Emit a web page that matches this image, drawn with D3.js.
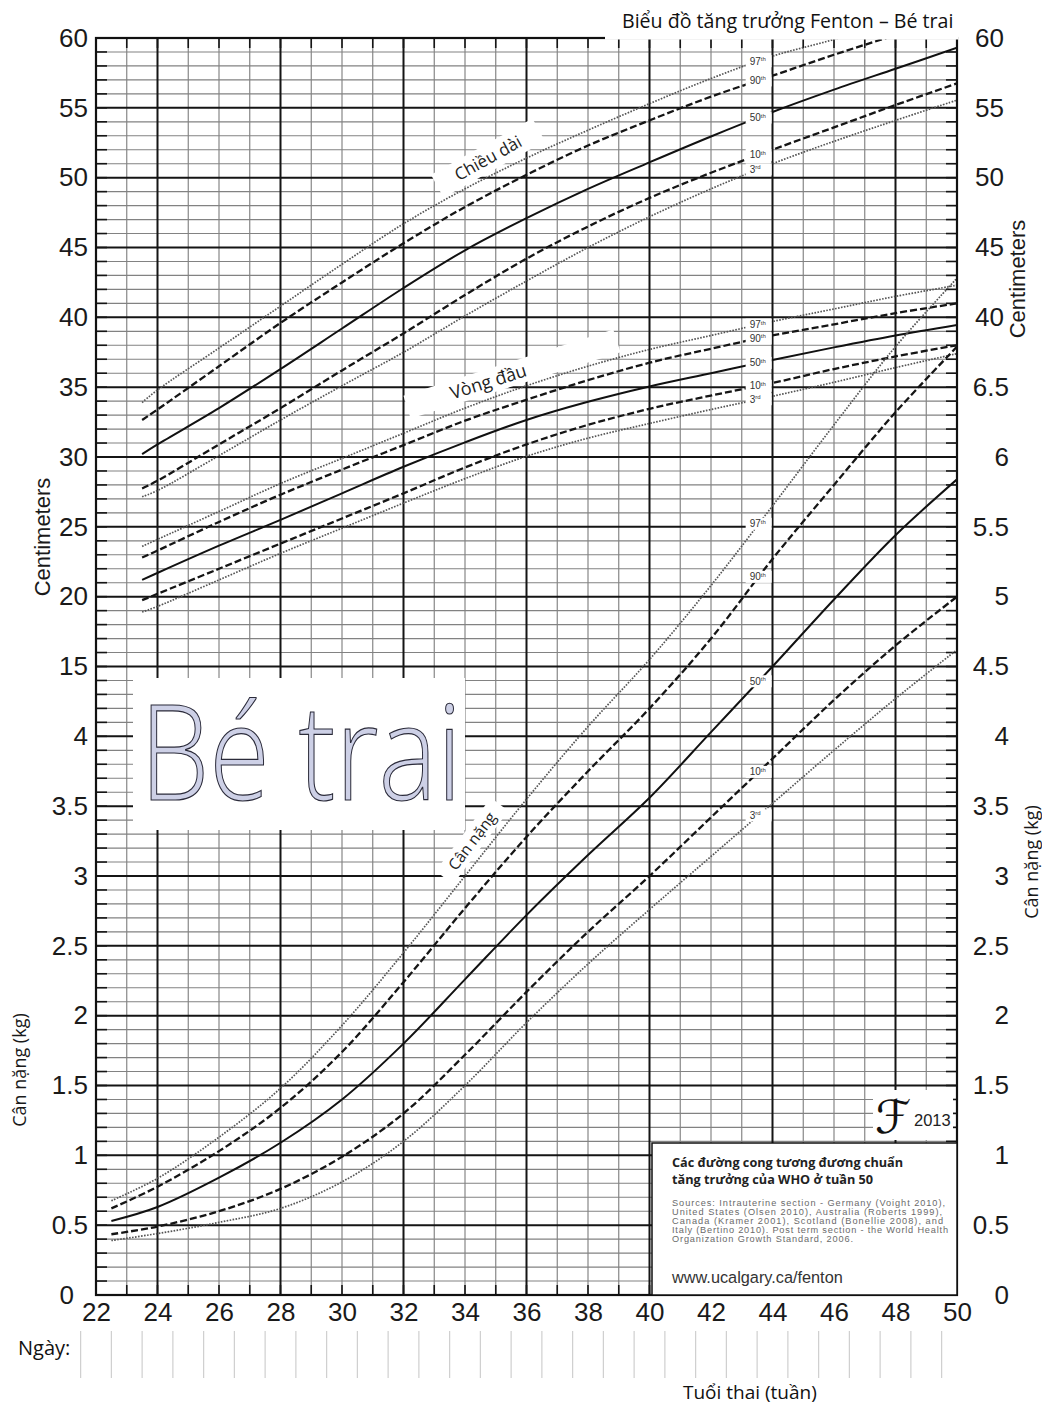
<!DOCTYPE html>
<html>
<head>
<meta charset="utf-8">
<script src="https://cdn.jsdelivr.net/npm/d3@7"></script>
<style>
  body { margin: 0; background: #fff; }
  svg { display: block; }
  .vn { font-family: "Open Sans", "Noto Sans", sans-serif; }
  .num { font-family: "Liberation Sans", Arial, sans-serif; }
</style>
</head>
<body>
<svg id="chart"></svg>
<script>
// ---- data ----
const weekTicks = [22, 24, 26, 28, 30, 32, 34, 36, 38, 40, 42, 44, 46, 48, 50];
const leftCmTicks = [60, 55, 50, 45, 40, 35, 30, 25, 20, 15];
const leftKgTicks = [4, 3.5, 3, 2.5, 2, 1.5, 1, 0.5, 0];
const rightCmTicks = [60, 55, 50, 45, 40];
const rightKgTicks = [6.5, 6, 5.5, 5, 4.5, 4, 3.5, 3, 2.5, 2, 1.5, 1, 0.5, 0];
const percentiles = [97, 90, 50, 10, 3];

// length (cm)
const lengthWeeks = [23.5, 24, 26, 28, 30, 32, 34, 36, 38, 40, 42, 44, 46, 48, 50];
const length97 = [33.9, 34.8, 37.8, 40.8, 43.8, 46.7, 49.2, 51.4, 53.4, 55.3, 57.1, 58.7, 59.9, 61.3, 62.6];
const length90 = [32.65, 33.4, 36.5, 39.6, 42.5, 45.3, 47.9, 50.2, 52.3, 54.1, 55.8, 57.3, 58.8, 60.2, 61.5];
const length50 = [30.2, 30.9, 33.5, 36.3, 39.2, 42.1, 44.8, 47.1, 49.2, 51.1, 52.95, 54.7, 56.3, 57.8, 59.3];
const length10 = [27.75, 28.3, 30.9, 33.5, 36.2, 38.85, 41.6, 44.2, 46.5, 48.55, 50.35, 52.0, 53.6, 55.2, 56.75];
const length3 = [27.15, 27.6, 30.1, 32.65, 35.1, 37.5, 40.1, 42.6, 45.0, 47.2, 49.2, 51.0, 52.6, 54.1, 55.55];

// head circumference (cm)
const headWeeks = [23.5, 24, 26, 28, 30, 32, 34, 36, 38, 40, 42, 44, 46, 48, 50];
const head97 = [23.6, 24.1, 26.1, 28.1, 29.9, 31.7, 33.5, 35.1, 36.5, 37.7, 38.7, 39.7, 40.6, 41.5, 42.3];
const head90 = [22.8, 23.3, 25.35, 27.3, 29.1, 30.85, 32.6, 34.1, 35.5, 36.75, 37.75, 38.7, 39.5, 40.3, 41.0];
const head50 = [21.2, 21.7, 23.65, 25.5, 27.4, 29.3, 31.05, 32.65, 33.95, 35.05, 36.0, 36.95, 37.85, 38.7, 39.45];
const head10 = [19.75, 20.2, 22.0, 23.8, 25.6, 27.4, 29.25, 30.9, 32.3, 33.45, 34.4, 35.3, 36.3, 37.2, 38.0];
const head3 = [18.9, 19.3, 21.2, 23.1, 24.9, 26.7, 28.45, 30.05, 31.35, 32.4, 33.4, 34.35, 35.35, 36.4, 37.4];

// weight (kg)
const weightWeeks = [22.5, 24, 26, 28, 30, 32, 34, 36, 38, 40, 42, 44, 46, 48, 50];
const weight97 = [0.675, 0.835, 1.13, 1.48, 1.93, 2.45, 3.0, 3.55, 4.07, 4.55, 5.08, 5.65, 6.23, 6.79, 7.28];
const weight90 = [0.62, 0.775, 1.03, 1.34, 1.74, 2.24, 2.77, 3.28, 3.75, 4.2, 4.7, 5.27, 5.8, 6.32, 6.79];
const weight50 = [0.53, 0.63, 0.84, 1.09, 1.4, 1.8, 2.26, 2.72, 3.15, 3.56, 4.03, 4.5, 4.98, 5.44, 5.84];
const weight10 = [0.435, 0.49, 0.6, 0.76, 0.99, 1.3, 1.72, 2.17, 2.6, 3.0, 3.42, 3.84, 4.26, 4.65, 5.0];
const weight3 = [0.39, 0.44, 0.52, 0.62, 0.81, 1.1, 1.5, 1.95, 2.37, 2.76, 3.14, 3.52, 3.9, 4.27, 4.62];

const sourceLines = [
  "Sources: Intrauterine section - Germany (Voight 2010),",
  "United States (Olsen 2010), Australia (Roberts 1999),",
  "Canada (Kramer 2001), Scotland (Bonellie 2008), and",
  "Italy (Bertino 2010). Post term section - the World Health",
  "Organization Growth Standard, 2006."
];

class FentonChart {
  constructor(_config) {
    this.config = {
      parentElement: _config.parentElement,
      containerWidth: 1042,
      containerHeight: 1404,
      margin: { top: 38, right: 85, bottom: 109, left: 96 },
      labelWeek: 43.55
    };
    this.initVis();
  }

  initVis() {
    let vis = this;
    vis.width = vis.config.containerWidth - vis.config.margin.left - vis.config.margin.right;
    vis.height = vis.config.containerHeight - vis.config.margin.top - vis.config.margin.bottom;

    vis.svg = d3.select(vis.config.parentElement)
      .attr('width', vis.config.containerWidth)
      .attr('height', vis.config.containerHeight);

    vis.chart = vis.svg.append('g')
      .attr('transform', `translate(${vis.config.margin.left},${vis.config.margin.top})`);

    vis.xScale = d3.scaleLinear().domain([22, 50]).range([0, vis.width]);
    // one shared grid: 18 big squares, 5 cm or 0.5 kg each
    vis.yKg = d3.scaleLinear().domain([0, 9]).range([vis.height, 0]);
    vis.yCm = d3.scaleLinear().domain([-30, 60]).range([vis.height, 0]);

    vis.series = [
      { y: vis.yCm, weeks: lengthWeeks, values: [length97, length90, length50, length10, length3] },
      { y: vis.yCm, weeks: headWeeks, values: [head97, head90, head50, head10, head3] },
      { y: vis.yKg, weeks: weightWeeks, values: [weight97, weight90, weight50, weight10, weight3] }
    ];

    vis.renderVis();
  }

  renderVis() {
    let vis = this;
    const W = vis.width, H = vis.height;

    // grid
    const grid = vis.chart.append('g').attr('class', 'grid');
    const rows = d3.range(0, 91);
    grid.selectAll('.hminor')
      .data(rows.filter(k => k % 5 !== 0))
      .join('line')
      .attr('x1', 0).attr('x2', W)
      .attr('y1', k => vis.yKg(k / 10)).attr('y2', k => vis.yKg(k / 10))
      .attr('stroke', '#828282').attr('stroke-width', 1.15);
    const allWeeks = d3.range(22, 51);
    grid.selectAll('.vminor')
      .data(allWeeks.filter(w => (w - 24) % 4 !== 0))
      .join('line')
      .attr('y1', 0).attr('y2', H)
      .attr('x1', w => vis.xScale(w)).attr('x2', w => vis.xScale(w))
      .attr('stroke', '#828282').attr('stroke-width', 1.15);
    grid.selectAll('.hmajor')
      .data(rows.filter(k => k % 5 === 0))
      .join('line')
      .attr('x1', 0).attr('x2', W)
      .attr('y1', k => vis.yKg(k / 10)).attr('y2', k => vis.yKg(k / 10))
      .attr('stroke', '#151515').attr('stroke-width', 2);
    grid.selectAll('.vmajor')
      .data(allWeeks.filter(w => (w - 24) % 4 === 0))
      .join('line')
      .attr('y1', 0).attr('y2', H)
      .attr('x1', w => vis.xScale(w)).attr('x2', w => vis.xScale(w))
      .attr('stroke', '#151515').attr('stroke-width', 2);

    // short ticks along the frame
    const ticks = vis.chart.append('g').attr('stroke', '#151515').attr('stroke-width', 1.6);
    rows.forEach(k => {
      const y = vis.yKg(k / 10);
      ticks.append('line').attr('x1', 0).attr('x2', 11).attr('y1', y).attr('y2', y);
      ticks.append('line').attr('x1', W - 11).attr('x2', W).attr('y1', y).attr('y2', y);
    });
    allWeeks.forEach(w => {
      const x = vis.xScale(w);
      ticks.append('line').attr('x1', x).attr('x2', x).attr('y1', 0).attr('y2', 10);
      ticks.append('line').attr('x1', x).attr('x2', x).attr('y1', H - 10).attr('y2', H);
    });

    // curves
    vis.svg.append('defs').append('clipPath').attr('id', 'plot-clip')
      .append('rect').attr('width', W).attr('height', H);
    const curves = vis.chart.append('g').attr('clip-path', 'url(#plot-clip)');
    const styleFor = p => {
      if (p === 50) return { stroke: '#111', width: 2, dash: null };
      if (p === 10 || p === 90) return { stroke: '#151515', width: 2.3, dash: '7,3' };
      return { stroke: '#555', width: 1.7, dash: '1.6,1.4' };
    };
    vis.series.forEach(s => {
      const line = d3.line()
        .x(d => vis.xScale(d[0]))
        .y(d => s.y(d[1]))
        .curve(d3.curveCatmullRom.alpha(0.5));
      s.values.forEach((vals, i) => {
        const st = styleFor(percentiles[i]);
        curves.append('path')
          .datum(s.weeks.map((w, j) => [w, vals[j]]))
          .attr('fill', 'none')
          .attr('stroke', st.stroke)
          .attr('stroke-width', st.width)
          .attr('stroke-dasharray', st.dash)
          .attr('d', line);
      });
    });

    // frame
    vis.chart.append('rect')
      .attr('width', W).attr('height', H)
      .attr('fill', 'none').attr('stroke', '#111').attr('stroke-width', 2.2);

    // percentile labels sitting in small gaps of each curve
    const valueAt = (ws, vs, w) => {
      const i = Math.max(0, d3.bisectRight(ws, w) - 1);
      const t = (w - ws[i]) / (ws[i + 1] - ws[i]);
      return vs[i] + t * (vs[i + 1] - vs[i]);
    };
    const lx = vis.xScale(vis.config.labelWeek);
    vis.series.forEach(s => {
      s.values.forEach((vals, i) => {
        const p = percentiles[i];
        const ly = s.y(valueAt(s.weeks, vals, vis.config.labelWeek));
        const g = vis.chart.append('g').attr('transform', `translate(${lx},${ly})`);
        g.append('rect').attr('x', -13).attr('y', -6).attr('width', 26).attr('height', 12).attr('fill', '#fff');
        const t = g.append('text').attr('class', 'num').attr('x', -9).attr('y', 3.5)
          .attr('font-size', 10).attr('fill', '#333').text(p);
        t.append('tspan').attr('font-size', 6).attr('dy', -3.5).text(p === 3 ? 'rd' : 'th');
      });
    });

    // curve names on white tags
    const tag = (x, y, angle, w, h, text, size, tx) => {
      const g = vis.svg.append('g').attr('transform', `translate(${x},${y}) rotate(${angle})`);
      g.append('rect').attr('x', -w / 2).attr('y', -h / 2).attr('width', w).attr('height', h).attr('fill', '#fff');
      g.append('text').attr('class', 'vn').attr('x', tx).attr('y', size * 0.36)
        .attr('text-anchor', 'middle').attr('font-size', size).attr('fill', '#222').text(text);
    };
    tag(488, 158, -29, 116, 26, 'Chiều dài', 17, 0);
    tag(512, 374, -17.5, 220, 24, 'Vòng đầu', 18, -25);
    tag(472, 841, -53, 92, 22, 'Cân nặng', 15.5, 0);

    // big "Bé trai"
    vis.svg.append('rect').attr('x', 133).attr('y', 678).attr('width', 332).attr('height', 152).attr('fill', '#fff');
    vis.svg.append('text').attr('class', 'vn')
      .attr('x', 140).attr('y', 800)
      .attr('font-size', 133).attr('font-weight', 300)
      .attr('textLength', 322).attr('lengthAdjust', 'spacingAndGlyphs')
      .attr('fill', '#cdd0e6').attr('stroke', '#2b2b3a').attr('stroke-width', 1.2)
      .text('Bé trai');

    // F 2013 mark
    vis.svg.append('rect').attr('x', 873).attr('y', 1090).attr('width', 80).attr('height', 50).attr('fill', '#fff');
    vis.svg.append('text').attr('x', 875).attr('y', 1133)
      .attr('font-family', '"DejaVu Serif", "DejaVu Sans", serif').attr('font-style', 'italic')
      .attr('font-size', 46).attr('fill', '#111').text('ℱ');
    vis.svg.append('text').attr('class', 'num').attr('x', 914).attr('y', 1126)
      .attr('font-size', 16.5).attr('fill', '#222').text('2013');

    // legend box
    vis.svg.append('rect').attr('x', 652).attr('y', 1143).attr('width', 305).attr('height', 152)
      .attr('fill', '#fff').attr('stroke', '#111').attr('stroke-width', 1.5);
    vis.svg.append('text').attr('class', 'vn').attr('x', 672).attr('y', 1167)
      .attr('font-size', 12.7).attr('font-weight', 'bold').attr('fill', '#222')
      .text('Các đường cong tương đương chuẩn');
    vis.svg.append('text').attr('class', 'vn').attr('x', 672).attr('y', 1184)
      .attr('font-size', 12.7).attr('font-weight', 'bold').attr('fill', '#222')
      .text('tăng trưởng của WHO ở tuần 50');
    const srcWidths = [273, 270, 271, 276, 181];
    vis.svg.selectAll('.src').data(sourceLines).join('text')
      .attr('class', 'num src').attr('x', 672).attr('y', (d, i) => 1206 + i * 9)
      .attr('font-size', 9.2).attr('fill', '#6a6a6a')
      .attr('textLength', (d, i) => srcWidths[i]).attr('lengthAdjust', 'spacing')
      .text(d => d);
    vis.svg.append('text').attr('class', 'num').attr('x', 672).attr('y', 1283)
      .attr('font-size', 16.3).attr('fill', '#333').text('www.ucalgary.ca/fenton');

    // title tag over the top frame
    vis.svg.append('rect').attr('x', 605).attr('y', 4).attr('width', 353).attr('height', 35.5).attr('fill', '#fff');
    vis.svg.append('text').attr('class', 'vn').attr('x', 622).attr('y', 28)
      .attr('font-size', 19.6).attr('fill', '#111').text('Biểu đồ tăng trưởng Fenton – Bé trai');

    // axes
    const styleAxis = g => {
      g.select('.domain').remove();
      g.selectAll('text').attr('font-family', '"Liberation Sans", Arial, sans-serif')
        .attr('font-size', 26).attr('fill', '#1a1a1a');
    };
    const fmt = d => String(d);
    vis.chart.append('g')
      .call(d3.axisLeft(vis.yCm).tickValues(leftCmTicks).tickFormat(fmt).tickSize(0).tickPadding(8))
      .call(styleAxis);
    const leftKg = vis.chart.append('g')
      .call(d3.axisLeft(vis.yKg).tickValues(leftKgTicks).tickFormat(fmt).tickSize(0).tickPadding(8))
      .call(styleAxis);
    leftKg.selectAll('.tick').filter(d => d === 0).select('text').attr('x', -22);
    vis.chart.append('g').attr('transform', `translate(${W},0)`)
      .call(d3.axisRight(vis.yCm).tickValues(rightCmTicks).tickFormat(fmt).tickSize(0).tickPadding(18))
      .call(styleAxis);
    const rightKg = vis.chart.append('g').attr('transform', `translate(${W},0)`)
      .call(d3.axisRight(vis.yKg).tickValues(rightKgTicks).tickFormat(fmt).tickSize(0).tickPadding(18))
      .call(styleAxis);
    rightKg.selectAll('text').attr('text-anchor', 'end').attr('x', 52);
    vis.chart.append('g').attr('transform', `translate(0,${H})`)
      .call(d3.axisBottom(vis.xScale).tickValues(weekTicks).tickFormat(fmt).tickSize(0).tickPadding(8))
      .call(styleAxis);

    // axis titles
    const vtext = (x, y, text, cls, size) => {
      vis.svg.append('text').attr('class', cls)
        .attr('transform', `translate(${x},${y}) rotate(-90)`)
        .attr('text-anchor', 'middle').attr('font-size', size).attr('fill', '#1a1a1a').text(text);
    };
    vtext(50, 537, 'Centimeters', 'num', 22);
    vtext(1025, 279, 'Centimeters', 'num', 22);
    vtext(26, 1070, 'Cân nặng (kg)', 'vn', 18);
    vtext(1038, 862, 'Cân nặng (kg)', 'vn', 18);

    // date row under the axis
    vis.svg.append('g').selectAll('line')
      .data(d3.range(21.5, 50, 1))
      .join('line')
      .attr('x1', d => vis.config.margin.left + vis.xScale(d))
      .attr('x2', d => vis.config.margin.left + vis.xScale(d))
      .attr('y1', 1331).attr('y2', 1378)
      .attr('stroke', '#cfcfcf').attr('stroke-width', 1.2);
    vis.svg.append('rect').attr('x', 14).attr('y', 1332).attr('width', 64).attr('height', 32).attr('fill', '#fff');
    vis.svg.append('text').attr('class', 'vn').attr('x', 18).attr('y', 1355)
      .attr('font-size', 20).attr('fill', '#111').text('Ngày:');
    vis.svg.append('rect').attr('x', 600).attr('y', 1379).attr('width', 245).attr('height', 25).attr('fill', '#fff');
    vis.svg.append('text').attr('class', 'vn').attr('x', 683).attr('y', 1399)
      .attr('font-size', 19).attr('fill', '#111').text('Tuổi thai (tuần)');
  }
}

const chart = new FentonChart({ parentElement: '#chart' });
</script>
</body>
</html>
